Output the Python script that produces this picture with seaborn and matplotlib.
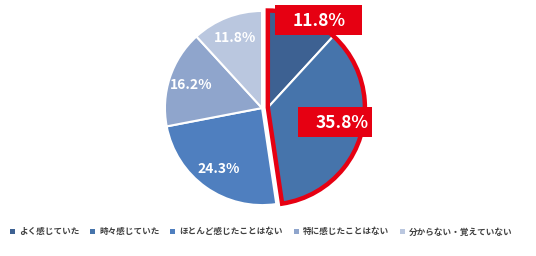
import numpy as np
import matplotlib
matplotlib.use("Agg")
import matplotlib.pyplot as plt
from matplotlib.patches import Wedge, Rectangle
import seaborn as sns

categories = ["よく感じていた", "時々感じていた", "ほとんど感じたことはない", "特に感じたことはない", "分からない・覚えていない"]
values = [11.8, 35.8, 24.3, 16.2, 11.8]
colors = ["#3D6192", "#4674AB", "#4F7FBF", "#8FA5CC", "#BAC7DF"]
RED = "#E60012"

sns.set_theme(style="white")
plt.rcParams["font.family"] = ["Noto Sans CJK JP", "DejaVu Sans"]

fig = plt.figure(figsize=(5.36, 2.56), dpi=100)
ax = fig.add_axes([0.2715, 0.123, 0.4347, 0.910])

wedges, texts, autotexts = ax.pie(
    values, colors=colors, startangle=90, counterclock=False,
    autopct="%.1f%%", pctdistance=0.77,
    wedgeprops=dict(edgecolor="white", linewidth=1.5),
    textprops=dict(color="white", fontsize=10, fontweight="bold"))

# explode first two slices together
total = sum(values)
frac_start = 0.0
frac_end = (values[0] + values[1]) / total
mid_angle = 90 - 360 * (frac_start + frac_end) / 2
off = 0.06
dx, dy = off * np.cos(np.radians(mid_angle)), off * np.sin(np.radians(mid_angle))
for w in wedges[:2]:
    w.set_center((dx, dy))
theta1 = 90 - 360 * frac_end
outline = Wedge((dx, dy), 1.0, theta1, 90, fill=False, edgecolor=RED, linewidth=3.2, zorder=5)
ax.add_patch(outline)

# red callout labels
box_specs = [((0.134, 0.753), 0.897, 0.309, (0.59, 0.90)),
             ((0.371, -0.30), 0.763, 0.31, (0.825, -0.15))]
for i, (xy, w, h, tpos) in enumerate(box_specs):
    ax.add_patch(Rectangle(xy, w, h, facecolor=RED, edgecolor="none", zorder=6, clip_on=False))
    t = autotexts[i]
    t.set_position(tpos)
    t.set_fontsize(12.5)
    t.set_zorder(7)

ax.set_xlim(-1.2, 1.2)
ax.set_ylim(-1.2, 1.2)
ax.set_aspect("equal")
ax.axis("off")

leg = fig.legend(wedges, categories, loc="center left", bbox_to_anchor=(0.012, 0.094),
                 ncol=5, frameon=False, fontsize=6.2, handlelength=0.6, handleheight=0.6,
                 handletextpad=0.45, columnspacing=1.25, borderaxespad=0)
for t in leg.get_texts():
    t.set_color("#404040")
    t.set_fontweight("bold")
for h in leg.legend_handles:
    h.set_edgecolor("none")

fig.savefig("out.png", dpi=100)
